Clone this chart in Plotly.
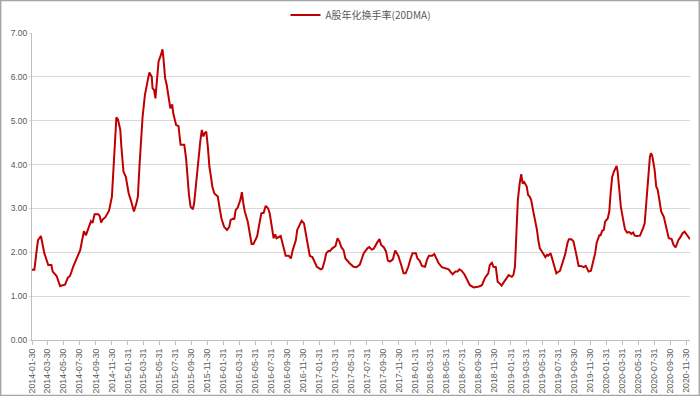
import plotly.graph_objects as go

dates = [
"2014-01-30","2014-02-08","2014-02-17","2014-02-22","2014-03-05","2014-03-10","2014-03-18","2014-04-02","2014-04-14","2014-04-19",
"2014-05-04","2014-05-17","2014-06-05","2014-06-16","2014-06-24","2014-07-06","2014-07-17","2014-08-02","2014-08-07","2014-08-16",
"2014-08-24","2014-09-03","2014-09-12","2014-09-18","2014-09-26","2014-10-10","2014-10-15","2014-10-21","2014-10-27","2014-11-06",
"2014-11-13","2014-11-20","2014-12-01","2014-12-07","2014-12-12","2014-12-18","2014-12-24","2015-01-02","2015-01-06","2015-01-14",
"2015-01-23","2015-02-03","2015-02-11","2015-02-23","2015-03-05","2015-03-10","2015-03-16","2015-03-22","2015-03-28","2015-04-06",
"2015-04-12","2015-04-17","2015-04-23","2015-05-02","2015-05-05","2015-05-11","2015-05-16","2015-05-22","2015-05-28","2015-06-06",
"2015-06-12","2015-06-16","2015-06-22","2015-06-28","2015-07-06","2015-07-12","2015-07-19","2015-07-23","2015-08-03","2015-08-12",
"2015-08-20","2015-09-03","2015-09-10","2015-09-16","2015-09-21","2015-09-27","2015-10-06","2015-10-11","2015-10-17","2015-10-25",
"2015-11-03","2015-11-09","2015-11-15","2015-11-20","2015-11-26","2015-12-02","2015-12-08","2015-12-14","2015-12-19","2015-12-27",
"2016-01-09","2016-01-15","2016-01-23","2016-02-02","2016-02-13","2016-02-22","2016-02-27","2016-03-09","2016-03-12","2016-03-17",
"2016-03-25","2016-04-04","2016-04-10","2016-04-15","2016-04-21","2016-05-02","2016-05-11","2016-05-17","2016-05-24","2016-06-07",
"2016-06-16","2016-06-23","2016-07-02","2016-07-10","2016-07-19","2016-07-25","2016-08-03","2016-08-09","2016-08-15","2016-08-20",
"2016-09-05","2016-09-10","2016-09-16","2016-09-24","2016-10-06","2016-10-14","2016-10-21","2016-11-02","2016-11-07","2016-11-16",
"2016-11-24","2016-12-03","2016-12-08","2016-12-14","2016-12-20","2016-12-25","2017-01-04","2017-01-12","2017-01-21","2017-02-05",
"2017-02-11","2017-02-19","2017-02-26","2017-03-06","2017-03-12","2017-03-21","2017-04-02","2017-04-10","2017-04-17","2017-04-25",
"2017-05-03","2017-05-10","2017-05-17","2017-05-26","2017-06-10","2017-06-21","2017-07-04","2017-07-12","2017-07-19","2017-08-02",
"2017-08-09","2017-08-19","2017-08-26","2017-09-08","2017-09-17","2017-09-23","2017-10-04","2017-10-12","2017-10-19","2017-10-27",
"2017-11-07","2017-11-16","2017-11-22","2017-11-28","2017-12-09","2017-12-18","2017-12-26","2018-01-05","2018-01-13","2018-01-21",
"2018-02-03","2018-02-09","2018-02-17","2018-02-26","2018-03-10","2018-03-18","2018-03-25","2018-04-06","2018-04-14","2018-04-19",
"2018-05-01","2018-05-13","2018-05-24","2018-06-08","2018-06-16","2018-06-23","2018-07-04","2018-07-12","2018-07-19","2018-07-27",
"2018-08-07","2018-08-16","2018-08-28","2018-09-12","2018-10-02","2018-10-13","2018-10-24","2018-11-06","2018-11-12","2018-11-20",
"2018-11-26","2018-12-05","2018-12-12","2018-12-21","2018-12-27","2019-01-06","2019-01-14","2019-01-23","2019-02-04","2019-02-10",
"2019-02-16","2019-02-22","2019-02-27","2019-03-06","2019-03-12","2019-03-17","2019-03-23","2019-04-02","2019-04-07","2019-04-13",
"2019-04-19","2019-04-26","2019-05-05","2019-05-11","2019-05-16","2019-05-22","2019-06-03","2019-06-12","2019-06-18","2019-06-23",
"2019-07-02","2019-07-08","2019-07-13","2019-07-24","2019-08-07","2019-08-12","2019-08-20","2019-08-26","2019-09-05","2019-09-10",
"2019-09-19","2019-09-27","2019-10-06","2019-10-11","2019-10-17","2019-10-25","2019-11-05","2019-11-13","2019-11-18","2019-11-24",
"2019-12-03","2019-12-08","2019-12-14","2019-12-19","2019-12-25","2020-01-04","2020-01-09","2020-01-15","2020-01-21","2020-01-26",
"2020-02-05","2020-02-11","2020-02-16","2020-02-22","2020-02-28","2020-03-06","2020-03-10","2020-03-14","2020-03-20","2020-03-26",
"2020-04-04","2020-04-11","2020-04-19","2020-04-27","2020-05-05","2020-05-12","2020-05-18","2020-05-26","2020-06-07","2020-06-13",
"2020-06-19","2020-06-25","2020-07-03","2020-07-09","2020-07-15","2020-07-19","2020-07-24","2020-08-02","2020-08-08","2020-08-14",
"2020-08-20","2020-08-27","2020-09-06","2020-09-12","2020-09-17","2020-09-25","2020-10-06","2020-10-13","2020-10-21","2020-11-01",
"2020-11-08","2020-11-16","2020-11-24","2020-12-04","2020-12-10","2020-12-15",
]

turnover = [
1.60,1.60,2.05,2.28,2.37,2.24,1.98,1.71,1.71,1.56,
1.46,1.23,1.26,1.42,1.46,1.67,1.82,2.05,2.21,2.48,
2.39,2.55,2.71,2.67,2.87,2.87,2.83,2.68,2.75,2.80,
2.87,2.95,3.27,3.88,4.52,5.08,5.03,4.79,4.41,3.84,
3.72,3.34,3.19,2.93,3.13,3.27,3.95,4.67,5.09,5.59,
5.81,5.93,6.10,6.00,5.74,5.70,5.51,5.89,6.35,6.50,
6.63,6.40,5.97,5.82,5.47,5.28,5.37,5.17,4.90,4.88,
4.45,4.45,4.14,3.61,3.31,3.04,2.98,3.13,3.53,4.03,
4.52,4.79,4.64,4.72,4.75,4.41,3.95,3.72,3.50,3.34,
3.27,3.04,2.77,2.58,2.51,2.58,2.74,2.77,2.75,2.96,
3.02,3.19,3.37,3.13,2.93,2.71,2.36,2.19,2.19,2.36,
2.66,2.89,2.90,3.06,3.00,2.89,2.55,2.32,2.41,2.32,
2.37,2.25,2.09,1.92,1.92,1.86,2.05,2.28,2.51,2.61,
2.72,2.66,2.49,2.36,2.13,1.92,1.89,1.79,1.67,1.61,
1.63,1.79,1.98,2.03,2.03,2.09,2.14,2.32,2.25,2.11,
2.05,1.86,1.81,1.75,1.67,1.66,1.72,1.84,1.98,2.09,
2.12,2.06,2.08,2.22,2.30,2.17,2.11,2.02,1.81,1.79,
1.84,2.04,1.98,1.92,1.71,1.52,1.52,1.67,1.84,1.98,
1.98,1.86,1.81,1.69,1.67,1.84,1.92,1.92,1.96,1.89,
1.75,1.66,1.64,1.61,1.55,1.50,1.56,1.56,1.61,1.58,
1.50,1.38,1.25,1.20,1.22,1.25,1.41,1.52,1.71,1.76,
1.67,1.66,1.33,1.28,1.24,1.33,1.41,1.48,1.44,1.48,
1.67,2.36,3.19,3.57,3.78,3.57,3.60,3.50,3.31,3.27,
3.19,2.96,2.70,2.51,2.28,2.09,1.98,1.89,1.94,1.92,
1.98,1.86,1.75,1.52,1.58,1.67,1.84,1.94,2.22,2.30,
2.30,2.25,2.01,1.84,1.69,1.69,1.66,1.69,1.64,1.56,
1.58,1.71,1.84,1.98,2.22,2.39,2.39,2.49,2.51,2.70,
2.77,2.93,3.34,3.72,3.83,3.95,3.97,3.83,3.38,3.04,
2.74,2.52,2.45,2.46,2.42,2.45,2.38,2.37,2.38,2.45,
2.55,2.66,3.27,3.88,4.18,4.26,4.20,3.88,3.50,3.42,
3.23,2.93,2.81,2.66,2.51,2.32,2.30,2.17,2.11,2.28,
2.34,2.43,2.47,2.39,2.34,2.30,
]

tick_labels = [
"2014-01-30","2014-03-30","2014-05-30","2014-07-30","2014-09-30","2014-11-30",
"2015-01-31","2015-03-31","2015-05-31","2015-07-31","2015-09-30","2015-11-30",
"2016-01-31","2016-03-31","2016-05-31","2016-07-31","2016-09-30","2016-11-30",
"2017-01-31","2017-03-31","2017-05-31","2017-07-31","2017-09-30","2017-11-30",
"2018-01-31","2018-03-31","2018-05-31","2018-07-31","2018-09-30","2018-11-30",
"2019-01-31","2019-03-31","2019-05-31","2019-07-31","2019-09-30","2019-11-30",
"2020-01-31","2020-03-31","2020-05-31","2020-07-31","2020-09-30","2020-11-30",
]

y_ticks = [0, 1, 2, 3, 4, 5, 6, 7]
series_name = "A股年化换手率(20DMA)"

W, H = 700, 396
ML, MR, MT, MB = 32, 10, 33, 56
pw, ph = W - ML - MR, H - MT - MB

font_fam = "Liberation Sans, Noto Sans CJK SC, sans-serif"
txt = "#595959"

fig = go.Figure()
fig.add_trace(go.Scatter(
    x=dates, y=turnover, mode="lines", name=series_name,
    line=dict(color="#C00000", width=2),
))

fig.update_layout(
    template="none",
    width=W, height=H,
    margin=dict(l=ML, r=MR, t=MT, b=MB, autoexpand=False),
    paper_bgcolor="white", plot_bgcolor="white",
    font=dict(family=font_fam, size=9, color=txt),
    showlegend=True,
    legend=dict(orientation="h", x=0.5, xanchor="center", y=1 + 18 / ph, yanchor="middle",
                font=dict(family="Noto Sans CJK SC, sans-serif", size=10, color=txt),
                bgcolor="rgba(0,0,0,0)", itemwidth=30),
    xaxis=dict(
        type="date", range=[dates[0], dates[-1]], automargin=False,
        tickmode="array", tickvals=tick_labels, ticktext=tick_labels,
        tickangle=-90, ticks="outside", ticklen=4, tickcolor="#bfbfbf", tickwidth=1,
        showgrid=False, showline=True, linecolor="#bfbfbf", linewidth=1,
        tickfont=dict(size=8.8, color=txt), zeroline=False,
    ),
    yaxis=dict(
        range=[0, 7], tickmode="array", tickvals=y_ticks, tickformat=".2f", automargin=False,
        showgrid=True, gridcolor="#d9d9d9", gridwidth=1,
        showline=True, linecolor="#bfbfbf", linewidth=1,
        ticks="outside", ticklen=2, tickcolor="#d9d9d9",
        tickfont=dict(size=8.5, color=txt), zeroline=False,
    ),
    shapes=[dict(
        type="rect", xref="paper", yref="paper",
        x0=-ML / pw + 0.001, x1=1 + MR / pw - 0.001,
        y0=-MB / ph + 0.002, y1=1 + MT / ph - 0.002,
        line=dict(color="#a6a6a6", width=1.5), fillcolor="rgba(0,0,0,0)", layer="below",
    )],
)

fig.write_html(
    "out.html",
    config={"displayModeBar": False},
    post_script="document.body.style.margin='0';document.body.style.padding='0';document.body.style.overflow='hidden';",
)
